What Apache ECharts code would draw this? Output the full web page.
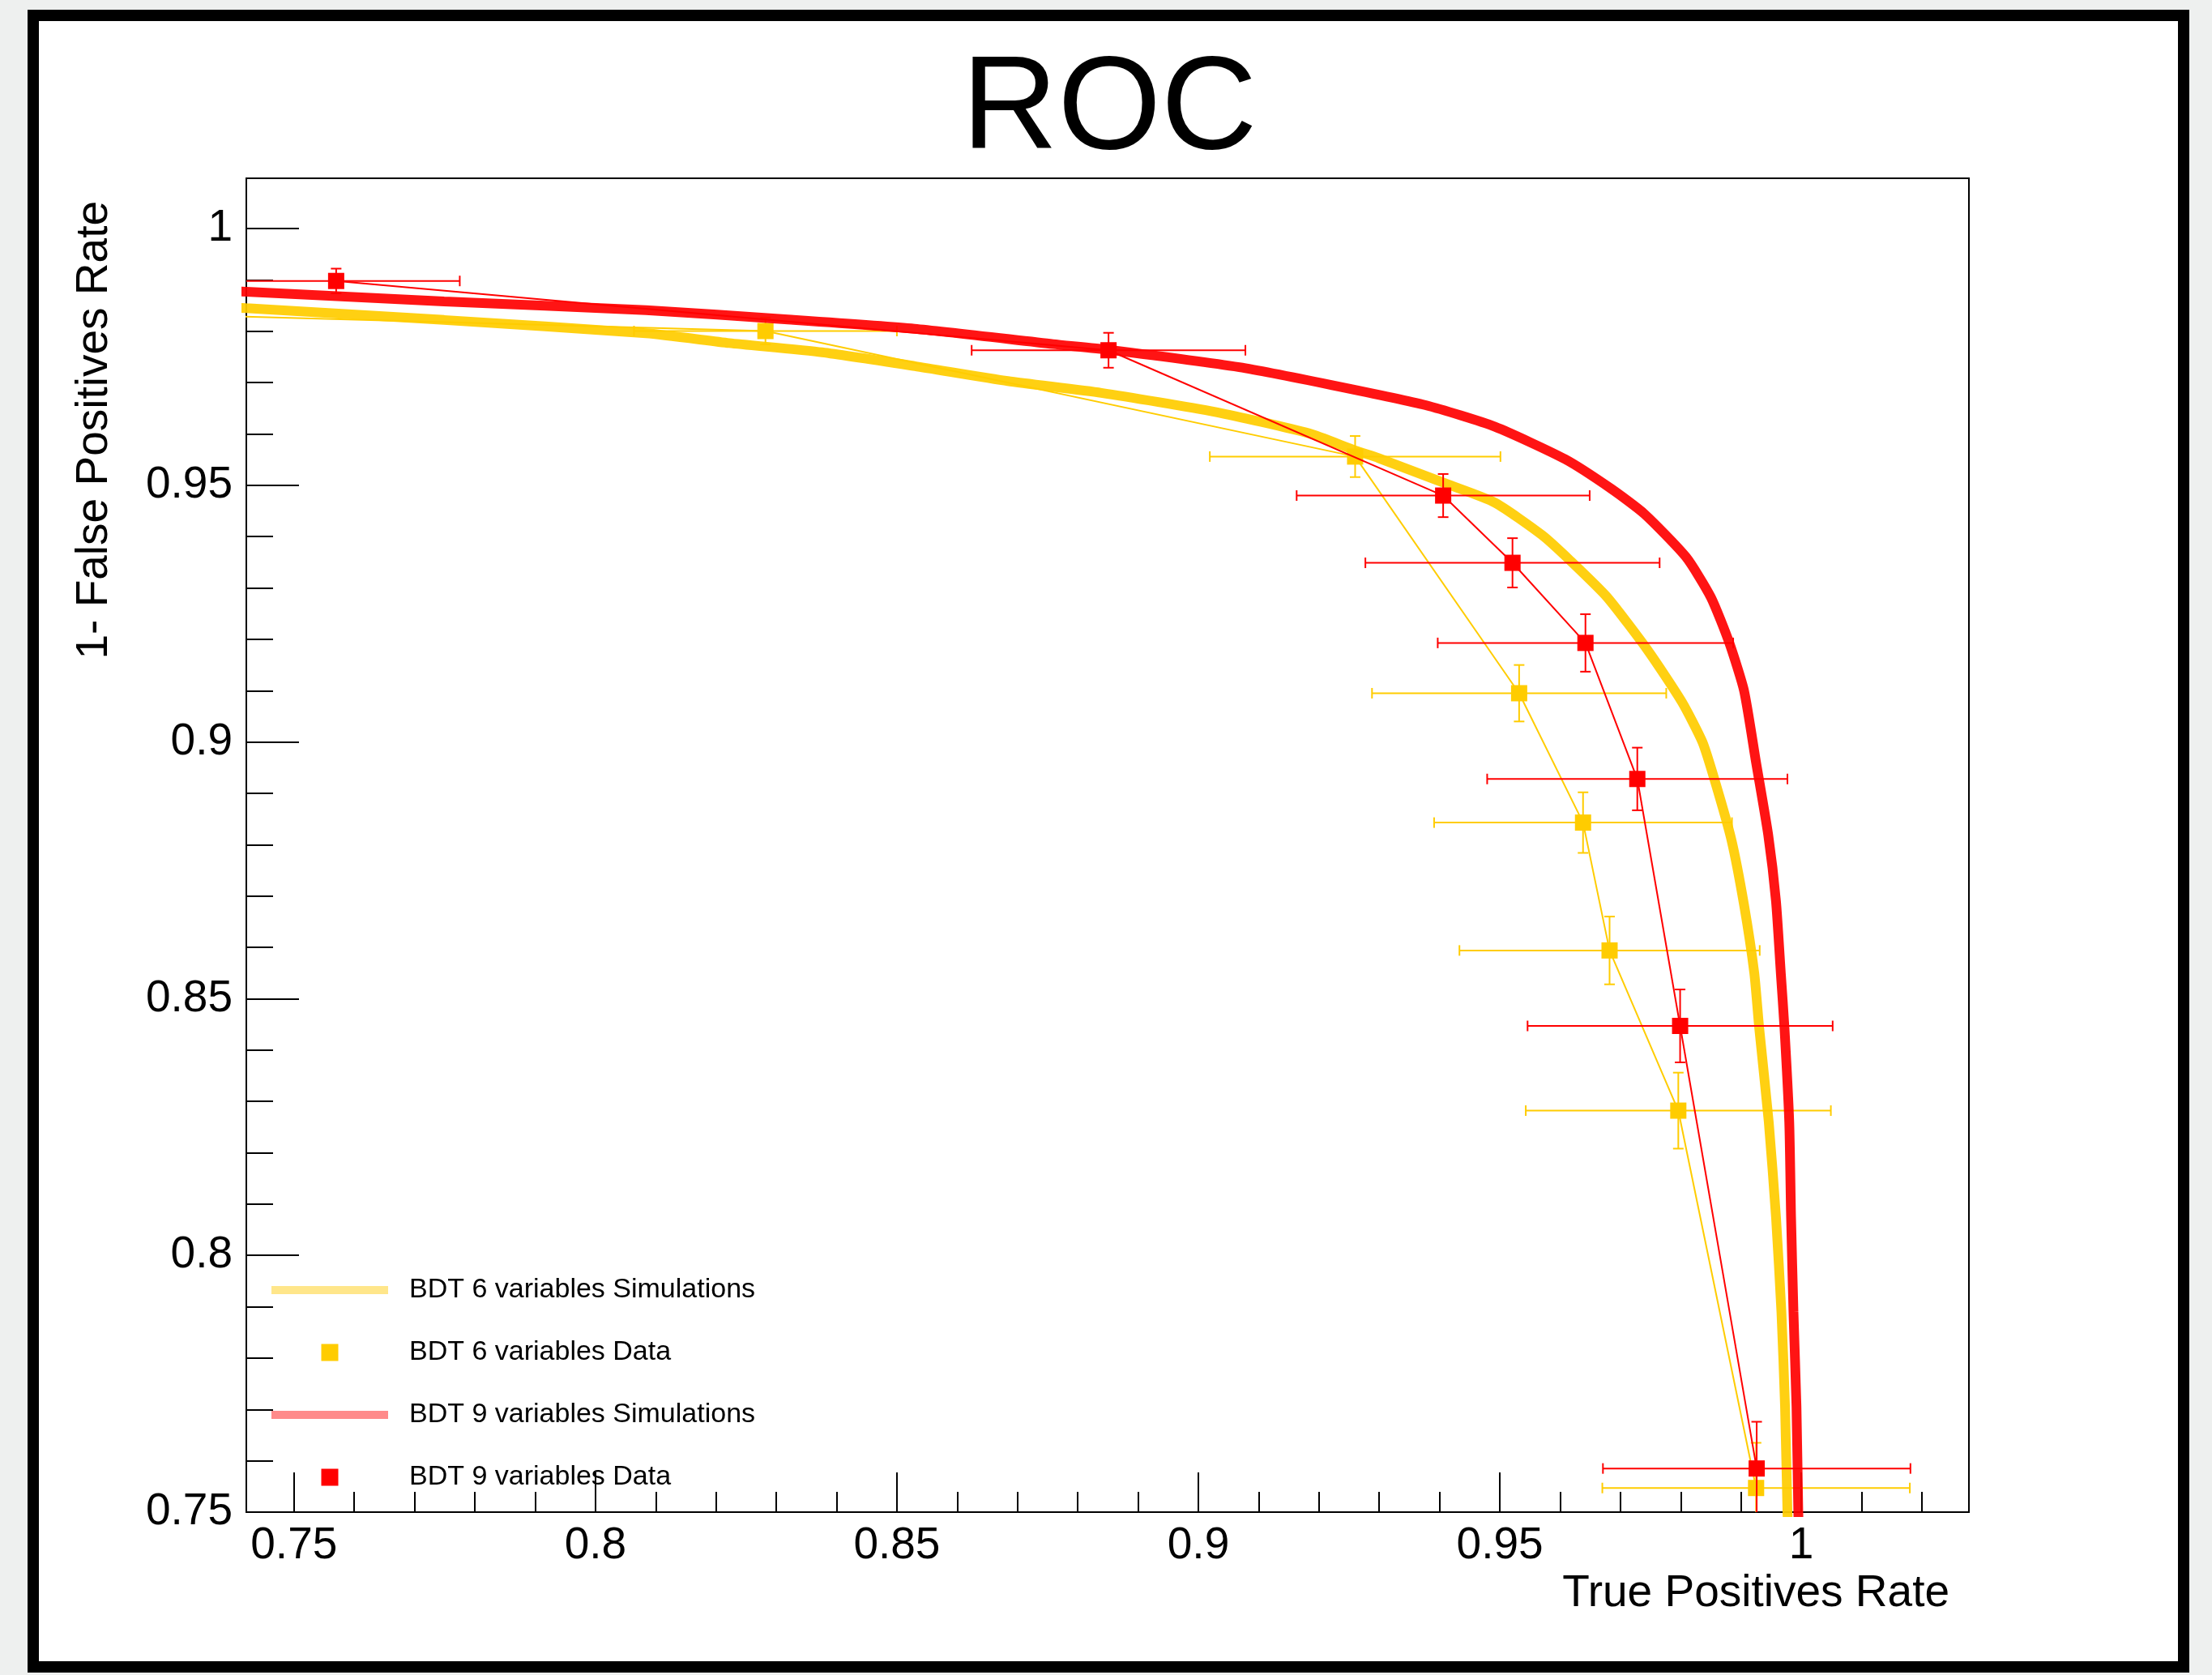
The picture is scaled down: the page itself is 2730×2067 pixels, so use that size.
<!DOCTYPE html>
<html>
<head>
<meta charset="utf-8">
<title>ROC</title>
<script src="https://cdn.jsdelivr.net/npm/echarts@6/dist/echarts.min.js"></script>
<style>
  html, body { margin: 0; padding: 0; background: #eef0ef; }
  #chart { width: 2730px; height: 2067px; }
</style>
</head>
<body>
<div id="chart"></div>
<script>
// ---- Simulated ROC curves (true positive rate, 1 - false positive rate) ----
const sim6X = [0.735, 0.7421, 0.7749, 0.8084, 0.8222, 0.8376, 0.8530, 0.8684, 0.8839, 0.9028,
               0.9184, 0.9260, 0.9299, 0.9411, 0.9492, 0.9570, 0.9617, 0.9678, 0.9747, 0.9802,
               0.9836, 0.9857, 0.9884, 0.9905, 0.9922, 0.9930, 0.9946, 0.9958, 0.9967, 0.9973,
               0.9977, 0.9980];
const sim6Y = [0.9850, 0.9845, 0.9822, 0.9796, 0.9777, 0.9759, 0.9732, 0.9703, 0.9680, 0.9643,
               0.9601, 0.9568, 0.9553, 0.9503, 0.9466, 0.9403, 0.9353, 0.9282, 0.9176, 0.9078,
               0.9000, 0.8923, 0.8810, 0.8683, 0.8550, 0.8445, 0.8260, 0.8075, 0.7890, 0.7706,
               0.7501, 0.7400];

const sim9X = [0.735, 0.7421, 0.7749, 0.8084, 0.8319, 0.8529, 0.8759, 0.8851, 0.9068, 0.9222,
               0.9377, 0.9492, 0.9608, 0.9685, 0.9740, 0.9809, 0.9850, 0.9880, 0.9905, 0.9925,
               0.9945, 0.9958, 0.9966, 0.9972, 0.9980, 0.9983, 0.9987, 0.9992, 0.9995, 0.9997];
const sim9Y = [0.9881, 0.9877, 0.9858, 0.9841, 0.9823, 0.9805, 0.9775, 0.9764, 0.9730, 0.9695,
               0.9656, 0.9614, 0.9551, 0.9493, 0.9444, 0.9360, 0.9282, 0.9195, 0.9100, 0.8960,
               0.8820, 0.8690, 0.8550, 0.8445, 0.8260, 0.8075, 0.7890, 0.7706, 0.7500, 0.7400];

// ---- Measured points with uncertainties ----
const data6X    = [0.7000, 0.8282, 0.9260, 0.9532, 0.9638, 0.9682, 0.9796, 0.9925];
const data6Y    = [0.9842, 0.98005, 0.9556, 0.9095, 0.8843, 0.8594, 0.8282, 0.7547];
const data6XErr = [0.0190, 0.0218, 0.0241, 0.0244, 0.0247, 0.0249, 0.0253, 0.0255];
const data6YErr = [0.0020, 0.0026, 0.0040, 0.0055, 0.0059, 0.0066, 0.0074, 0.0088];

const data9X    = [0.7570, 0.8851, 0.9406, 0.9521, 0.9642, 0.9728, 0.9799, 0.9926];
const data9Y    = [0.9898, 0.9763, 0.9480, 0.9349, 0.9193, 0.8928, 0.8447, 0.7585];
const data9XErr = [0.0205, 0.0227, 0.0243, 0.0244, 0.0245, 0.0249, 0.0253, 0.0255];
const data9YErr = [0.0024, 0.0034, 0.0042, 0.0048, 0.0056, 0.0061, 0.0071, 0.0091];

// ---- Axis ticks ----
const xMajorTicks  = [0.75, 0.8, 0.85, 0.9, 0.95, 1.0];
const xTickLabels  = ['0.75', '0.8', '0.85', '0.9', '0.95', '1'];
const xMinorTicks  = [0.76, 0.77, 0.78, 0.79, 0.81, 0.82, 0.83, 0.84, 0.86, 0.87, 0.88, 0.89,
                      0.91, 0.92, 0.93, 0.94, 0.96, 0.97, 0.98, 0.99, 1.01, 1.02];
const yMajorTicks  = [0.75, 0.8, 0.85, 0.9, 0.95, 1.0];
const yTickLabels  = ['0.75', '0.8', '0.85', '0.9', '0.95', '1'];
const yMinorTicks  = [0.76, 0.77, 0.78, 0.79, 0.81, 0.82, 0.83, 0.84, 0.86, 0.87, 0.88, 0.89,
                      0.91, 0.92, 0.93, 0.94, 0.96, 0.97, 0.98, 0.99];

const seriesNames = ['BDT 6 variables Simulations', 'BDT 6 variables Data',
                     'BDT 9 variables Simulations', 'BDT 9 variables Data'];

const FONT = "'Liberation Sans', Arial, Helvetica, sans-serif";
const YELLOW = '#ffcc00';
const RED = '#ff0000';

const zip = (xs, ys) => xs.map((x, i) => [x, ys[i]]);
const zipErr = (xs, ys, ex, ey) => xs.map((x, i) => [x, ys[i], ex[i], ey[i]]);

function labelFor(values, labels) {
  return function (v) {
    for (let i = 0; i < values.length; i++) {
      if (Math.abs(values[i] - v) < 1e-9) return labels[i];
    }
    return '';
  };
}

// Horizontal and vertical error bars with end caps, positioned through the axes
function errorBars(color) {
  return function (params, api) {
    const x = api.value(0), y = api.value(1), ex = api.value(2), ey = api.value(3);
    const l = api.coord([x - ex, y]);
    const r = api.coord([x + ex, y]);
    const t = api.coord([x, y + ey]);
    const b = api.coord([x, y - ey]);
    const cap = 6.5;
    const style = { stroke: color, lineWidth: 2, fill: null };
    const seg = (x1, y1, x2, y2) => ({ type: 'line', shape: { x1, y1, x2, y2 }, style });
    return {
      type: 'group',
      children: [
        seg(l[0], l[1], r[0], r[1]),
        seg(t[0], t[1], b[0], b[1]),
        seg(l[0], l[1] - cap, l[0], l[1] + cap),
        seg(r[0], r[1] - cap, r[0], r[1] + cap),
        seg(t[0] - cap, t[1], t[0] + cap, t[1]),
        seg(b[0] - cap, b[1], b[0] + cap, b[1])
      ]
    };
  };
}

const X_MIN = 0.7421, X_MAX = 1.0278;
const Y_MIN = 0.75, Y_MAX = 1.0098;

const baseX = { type: 'value', min: X_MIN, max: X_MAX, gridIndex: 0, position: 'bottom',
                nameMoveOverlap: false,
                splitLine: { show: false }, axisLine: { show: false } };
const baseY = { type: 'value', min: Y_MIN, max: Y_MAX, gridIndex: 0, position: 'left',
                nameMoveOverlap: false,
                splitLine: { show: false }, axisLine: { show: false } };

const lineIcon = 'path://M0,0H144V10H0Z';
const squareIcon = 'path://M0,0H10V10H0Z';

const option = {
  backgroundColor: '#eef0ef',
  animation: false,
  title: {
    text: 'ROC',
    left: 1187,
    top: 56,
    padding: 0,
    textStyle: { fontFamily: FONT, fontSize: 164, fontWeight: 'normal', color: '#000', lineHeight: 164 }
  },
  graphic: [{
    type: 'rect',
    z: -10,
    shape: { x: 41, y: 19, width: 2654, height: 2038 },
    style: { fill: '#ffffff', stroke: '#000000', lineWidth: 14 },
    silent: true
  }],
  grid: {
    left: 304, top: 220, right: 300, bottom: 201,
    outerBoundsMode: 'none',
    containLabel: false,
    show: true, borderColor: '#000', borderWidth: 2, backgroundColor: 'transparent'
  },
  legend: {
    orient: 'vertical',
    left: 335,
    top: 1575,
    padding: 0,
    itemWidth: 144,
    itemHeight: 21,
    itemGap: 43,
    selectedMode: false,
    symbolKeepAspect: true,
    itemStyle: { borderWidth: 0 },
    textStyle: { fontFamily: FONT, fontSize: 34, color: '#000', padding: [0, 0, 0, 21] },
    data: [
      { name: seriesNames[0], icon: lineIcon,   itemStyle: { color: '#ffe68a', borderWidth: 0 } },
      { name: seriesNames[1], icon: squareIcon, itemStyle: { color: YELLOW, borderWidth: 0 } },
      { name: seriesNames[2], icon: lineIcon,   itemStyle: { color: '#ff8a8a', borderWidth: 0 } },
      { name: seriesNames[3], icon: squareIcon, itemStyle: { color: RED, borderWidth: 0 } }
    ]
  },
  xAxis: [
    Object.assign({}, baseX, {
      name: 'True Positives Rate',
      nameLocation: 'end',
      nameGap: -24,
      nameTextStyle: { fontFamily: FONT, fontSize: 55, color: '#000', align: 'right',
                       verticalAlign: 'top', lineHeight: 55, padding: [73, 0, 0, 0] },
      axisTick: { show: true, inside: true, length: 49, customValues: xMajorTicks,
                  lineStyle: { color: '#000', width: 2 } },
      axisLabel: { show: true, customValues: xMajorTicks, formatter: labelFor(xMajorTicks, xTickLabels),
                   fontFamily: FONT, fontSize: 55, color: '#000', margin: 14, lineHeight: 55 }
    }),
    Object.assign({}, baseX, {
      axisTick: { show: true, inside: true, length: 25, customValues: xMinorTicks,
                  lineStyle: { color: '#000', width: 2 } },
      axisLabel: { show: false }
    })
  ],
  yAxis: [
    Object.assign({}, baseY, {
      name: '1- False Positives Rate',
      nameLocation: 'end',
      nameGap: -28,
      nameRotate: 90,
      nameTextStyle: { fontFamily: FONT, fontSize: 55, color: '#000', align: 'right',
                       verticalAlign: 'bottom', lineHeight: 55, padding: [0, 0, 160, 0] },
      axisTick: { show: true, inside: true, length: 65, customValues: yMajorTicks,
                  lineStyle: { color: '#000', width: 2 } },
      axisLabel: { show: true, customValues: yMajorTicks, formatter: labelFor(yMajorTicks, yTickLabels),
                   fontFamily: FONT, fontSize: 55, color: '#000', margin: 17 }
    }),
    Object.assign({}, baseY, {
      axisTick: { show: true, inside: true, length: 33, customValues: yMinorTicks,
                  lineStyle: { color: '#000', width: 2 } },
      axisLabel: { show: false }
    })
  ],
  series: [
    {
      name: seriesNames[0],
      type: 'line',
      xAxisIndex: 0, yAxisIndex: 0,
      data: zip(sim6X, sim6Y),
      symbol: 'none',
      smooth: 0.2,
      clip: true,
      z: 2,
      itemStyle: { color: YELLOW },
      lineStyle: { color: YELLOW, width: 12, opacity: 0.93 }
    },
    {
      name: seriesNames[1] + ' errors',
      type: 'custom',
      xAxisIndex: 0, yAxisIndex: 0,
      data: zipErr(data6X, data6Y, data6XErr, data6YErr),
      encode: { x: 0, y: 1 },
      renderItem: errorBars(YELLOW),
      clip: true,
      z: 3
    },
    {
      name: seriesNames[1],
      type: 'line',
      xAxisIndex: 0, yAxisIndex: 0,
      data: zip(data6X, data6Y),
      symbol: 'rect',
      symbolSize: 20,
      showAllSymbol: true,
      clip: true,
      z: 3,
      itemStyle: { color: YELLOW, borderWidth: 0 },
      lineStyle: { color: YELLOW, width: 2 }
    },
    {
      name: seriesNames[2],
      type: 'line',
      xAxisIndex: 0, yAxisIndex: 0,
      data: zip(sim9X, sim9Y),
      symbol: 'none',
      smooth: 0.2,
      clip: true,
      z: 4,
      itemStyle: { color: RED },
      lineStyle: { color: RED, width: 12, opacity: 0.92 }
    },
    {
      name: seriesNames[3] + ' errors',
      type: 'custom',
      xAxisIndex: 0, yAxisIndex: 0,
      data: zipErr(data9X, data9Y, data9XErr, data9YErr),
      encode: { x: 0, y: 1 },
      renderItem: errorBars(RED),
      clip: true,
      z: 5
    },
    {
      name: seriesNames[3],
      type: 'line',
      xAxisIndex: 0, yAxisIndex: 0,
      data: zip(data9X, data9Y),
      symbol: 'rect',
      symbolSize: 20,
      showAllSymbol: true,
      clip: true,
      z: 5,
      itemStyle: { color: RED, borderWidth: 0 },
      lineStyle: { color: RED, width: 2 }
    }
  ]
};

const chart = echarts.init(document.getElementById('chart'), null, { renderer: 'canvas' });
chart.setOption(option);
</script>
</body>
</html>
